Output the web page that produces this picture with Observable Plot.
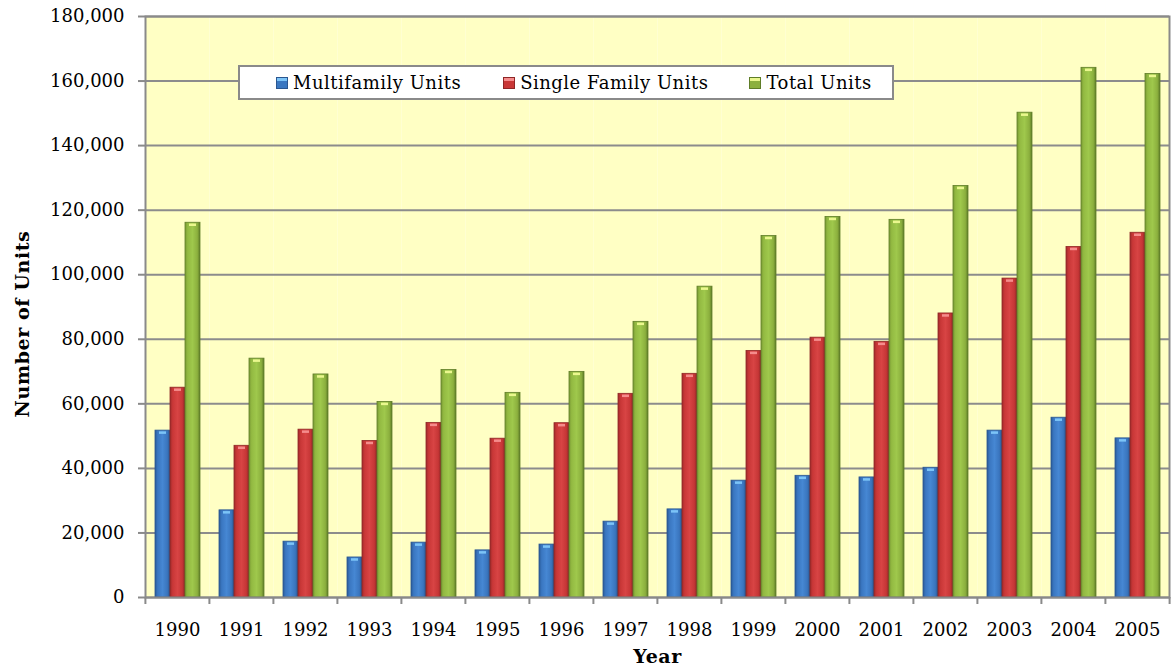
<!DOCTYPE html>
<html>
<head>
<meta charset="utf-8">
<script src="https://cdn.jsdelivr.net/npm/d3@7"></script>
<script src="https://cdn.jsdelivr.net/npm/@observablehq/plot@0.6"></script>
<style>
  html, body { margin: 0; padding: 0; background: #ffffff; }
  #wrap { position: relative; width: 1171px; height: 670px; }
  svg { font-family: "DejaVu Serif", serif; }
  g[aria-label="y-axis label"] text, g[aria-label="fx-axis label"] text { font-weight: bold; font-size: 19px; letter-spacing: 0.6px; }
  #legend {
    position: absolute; left: 238px; top: 65px; width: 656px; height: 35px;
    box-sizing: border-box; border: 2px solid #8a8a8a; background: #ffffff;
    display: flex; align-items: center; padding-left: 36px;
    font-family: "DejaVu Serif", serif; font-size: 18px; letter-spacing: 0.5px; color: #000;
  }
  .item { display: flex; align-items: center; }
  .sw { width: 12px; height: 12px; margin-right: 5px; box-sizing: border-box; }
</style>
</head>
<body>
<div id="wrap"></div>
<script>
// ---- data ----
const years = ["1990","1991","1992","1993","1994","1995","1996","1997","1998","1999","2000","2001","2002","2003","2004","2005"];
const seriesNames = ["Multifamily Units", "Single Family Units", "Total Units"];
const multifamily = [51700, 27000, 17300, 12400, 17000, 14600, 16400, 23500, 27300, 36200, 37700, 37200, 40200, 51700, 55700, 49300];
const singleFamily = [65000, 47000, 52000, 48500, 54100, 49200, 54000, 63100, 69300, 76400, 80500, 79200, 88000, 98800, 108600, 113000];
const totalUnits = [116100, 74000, 69100, 60600, 70500, 63400, 69900, 85400, 96300, 112000, 117900, 117000, 127500, 150200, 164100, 162200];
const yTicks = [0, 20000, 40000, 60000, 80000, 100000, 120000, 140000, 160000, 180000];

const seriesValues = [multifamily, singleFamily, totalUnits];
const rows = [];
seriesNames.forEach((s, i) => years.forEach((y, j) => rows.push({year: y, series: s, value: seriesValues[i][j]})));

const style = {
  "Multifamily Units":   {fill: "url(#gBlue)",  stroke: "#2a5690", cap: "#7cc4f7"},
  "Single Family Units": {fill: "url(#gRed)",   stroke: "#8e2626", cap: "#f58c8c"},
  "Total Units":         {fill: "url(#gGreen)", stroke: "#5f7d28", cap: "#eaf78e"}
};

const W = 1171, H = 670, mL = 143, mR = 1, mT = 16, mB = 73;
const halfStep = (W - mL - mR) / years.length / 2;

const barMarks = seriesNames.flatMap(s => {
  const d = rows.filter(r => r.series === s);
  return [
    Plot.barY(d, {fx: "year", x: "series", y: "value", fill: style[s].fill, stroke: style[s].stroke, strokeWidth: 0.8}),
    Plot.tickY(d, {fx: "year", x: "series", y: "value", stroke: style[s].cap, strokeWidth: 2.5, inset: 4, dy: 2})
  ];
});

const chart = Plot.plot({
  width: W, height: H,
  marginLeft: mL, marginRight: mR, marginTop: mT, marginBottom: mB,
  style: {fontFamily: "DejaVu Serif, serif", fontSize: "18px", color: "#000", background: "#ffffff"},
  fx: {domain: years, padding: 0, label: null},
  x: {domain: seriesNames, paddingInner: 0, paddingOuter: 0.6, axis: null},
  y: {domain: [0, 180000], label: null},
  marks: [
    Plot.frame({fill: "#ffffc4", stroke: null}),
    Plot.gridY(yTicks, {stroke: "#8c8c8c", strokeOpacity: 1, strokeWidth: 2}),
    ...barMarks,
    Plot.frame({facet: "super", stroke: "#8a8a8a", strokeWidth: 2}),
    Plot.axisY(yTicks, {tickFormat: d3.format(","), tickSize: 7, tickPadding: 14, stroke: "#8a8a8a", strokeWidth: 2, fontSize: 18,
      label: "Number of Units", labelAnchor: "center", labelArrow: "none", labelOffset: 130}),
    Plot.axisFx({anchor: "bottom", tickSize: 0, tickPadding: 26, fontSize: 18,
      label: "Year", labelAnchor: "center", labelArrow: "none", labelOffset: 65}),
    Plot.axisFx({anchor: "bottom", tickSize: 7, tickFormat: () => "", dx: -halfStep, stroke: "#8a8a8a", strokeWidth: 2, label: null}),
    Plot.axisFx({anchor: "bottom", ticks: [years[years.length - 1]], tickSize: 7, tickFormat: () => "", dx: halfStep, stroke: "#8a8a8a", strokeWidth: 2, label: null})
  ]
});

// gradients for the shaded bars
const grads = {
  gBlue:  [["0%", "#2b5b99"], ["18%", "#3a77c1"], ["50%", "#4687d3"], ["82%", "#3a75be"], ["100%", "#28548c"]],
  gRed:   [["0%", "#a02c2c"], ["18%", "#c93737"], ["50%", "#d84444"], ["82%", "#c63636"], ["100%", "#8c2525"]],
  gGreen: [["0%", "#7a9a35"], ["18%", "#93ba42"], ["50%", "#9fc84c"], ["82%", "#8cb03e"], ["100%", "#5f7d28"]]
};
const svg = d3.select(chart.tagName.toLowerCase() === "svg" ? chart : chart.querySelector("svg"));
const defs = svg.insert("defs", ":first-child");
for (const [id, stops] of Object.entries(grads)) {
  const g = defs.append("linearGradient").attr("id", id).attr("x1", 0).attr("x2", 1).attr("y1", 0).attr("y2", 0);
  stops.forEach(([o, c]) => g.append("stop").attr("offset", o).attr("stop-color", c));
}
// nudge the y-axis title down to where the reference has it
svg.selectAll('g[aria-label="y-axis label"]').each(function () {
  const t = this.getAttribute("transform") || "";
  this.setAttribute("transform", "translate(0,17) " + t);
});

const wrap = document.getElementById("wrap");
wrap.appendChild(chart);

// legend (HTML overlay inside the plot area, as in the reference)
const legend = document.createElement("div");
legend.id = "legend";
const swatchBg = {
  "Multifamily Units": "linear-gradient(to bottom, #7cc4f7 0 25%, #3a77c1 25%)",
  "Single Family Units": "linear-gradient(to bottom, #f58c8c 0 25%, #c93737 25%)",
  "Total Units": "linear-gradient(to bottom, #eaf78e 0 25%, #8cb03e 25%)"
};
const gaps = [0, 42, 41];
seriesNames.forEach((s, i) => {
  const it = document.createElement("div");
  it.className = "item";
  it.style.marginLeft = gaps[i] + "px";
  const sw = document.createElement("div");
  sw.className = "sw";
  sw.style.background = swatchBg[s];
  sw.style.border = "1px solid " + style[s].stroke;
  const tx = document.createElement("span");
  tx.textContent = s;
  it.appendChild(sw); it.appendChild(tx);
  legend.appendChild(it);
});
wrap.appendChild(legend);
</script>
</body>
</html>
